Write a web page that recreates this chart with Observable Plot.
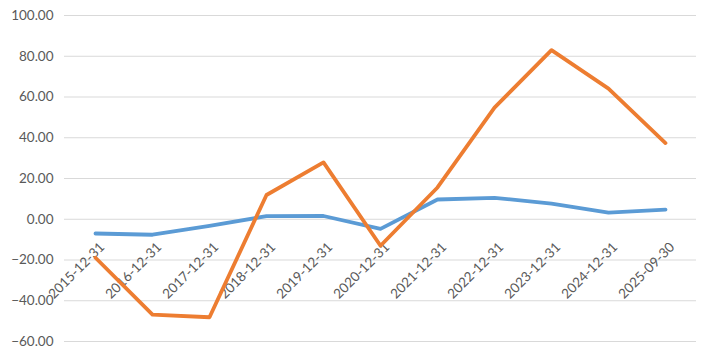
<!DOCTYPE html>
<html>
<head>
<meta charset="utf-8">
<script src="https://cdn.jsdelivr.net/npm/d3@7"></script>
<script src="https://cdn.jsdelivr.net/npm/@observablehq/plot@0.6"></script>
<style>
  html, body { margin: 0; padding: 0; background: #fff; }
  #chart { width: 720px; height: 360px; }
</style>
</head>
<body>
<div id="chart"></div>
<script>
const dates = ["2015-12-31","2016-12-31","2017-12-31","2018-12-31","2019-12-31","2020-12-31","2021-12-31","2022-12-31","2023-12-31","2024-12-31","2025-09-30"];
const blueValues = [-7.0, -7.6, -3.2, 1.5, 1.6, -4.7, 9.7, 10.5, 7.7, 3.3, 4.7];
const orangeValues = [-18.9, -46.8, -48.1, 11.9, 27.9, -13.0, 15.6, 54.8, 83.0, 64.1, 37.4];
const yTicks = [-60, -40, -20, 0, 20, 40, 60, 80, 100];

const blue = dates.map((d, i) => ({date: d, value: blueValues[i]}));
const orange = dates.map((d, i) => ({date: d, value: orangeValues[i]}));

const chart = Plot.plot({
  width: 720,
  height: 360,
  marginLeft: 64,
  marginRight: 24,
  marginTop: 15,
  marginBottom: 19,
  style: {fontFamily: "Lato, sans-serif", fontSize: "13px", color: "#595959", background: "#fff"},
  x: {type: "point", domain: dates, padding: 0.5, axis: null},
  y: {domain: [-60, 100], ticks: yTicks, tickFormat: d3.format(".2f"), label: null},
  marks: [
    Plot.ruleY(yTicks, {stroke: "#d9d9d9", strokeWidth: 1}),
    Plot.axisY({ticks: yTicks, tickFormat: d3.format(".2f"), tickSize: 0, tickPadding: 11, label: null, fill: "#595959", fontSize: 13.5}),
    Plot.text(dates, {x: d => d, y: () => 0, text: d => d, rotate: -45, textAnchor: "end", lineAnchor: "top", dx: 3, dy: 22, fill: "#595959", fontSize: 13.5}),
    Plot.line(blue, {x: "date", y: "value", stroke: "#5B9BD5", strokeWidth: 3.8, strokeLinejoin: "round", strokeLinecap: "round"}),
    Plot.line(orange, {x: "date", y: "value", stroke: "#ED7D31", strokeWidth: 3.8, strokeLinejoin: "round", strokeLinecap: "round"})
  ]
});
document.getElementById("chart").appendChild(chart);
</script>
</body>
</html>
